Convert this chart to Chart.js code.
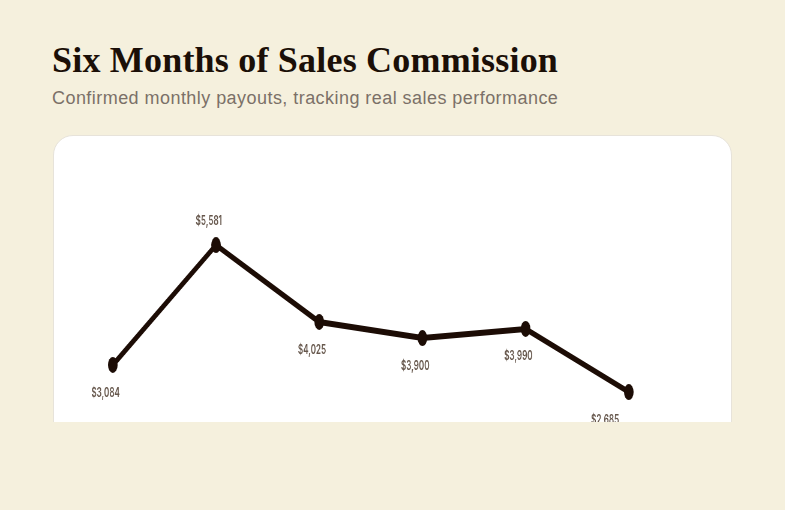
<!DOCTYPE html>
<html>
<head>
<meta charset="utf-8">
<title>Six Months of Sales Commission</title>
<script src="https://cdn.jsdelivr.net/npm/chart.js@4.4.1/dist/chart.umd.min.js"></script>
<style>
    html, body { margin: 0; padding: 0; background: #f5f0dd; }
    body { width: 785px; height: 510px; overflow: hidden; position: relative; }
    .page { position: absolute; left: 0; top: 0; width: 785px; height: 422px; overflow: hidden; }
    h1 {
        position: absolute; left: 52px; top: 40px; margin: 0;
        font: bold 36px "Liberation Serif", serif; line-height: 40px;
        letter-spacing: 0.2px; color: #1b0f07; white-space: nowrap;
    }
    .subtitle {
        position: absolute; left: 52px; top: 88px; margin: 0;
        font: 18px "Liberation Sans", Arial, sans-serif; line-height: 20px;
        letter-spacing: 0.45px; color: #7b7068; white-space: nowrap;
    }
    .card {
        position: absolute; left: 53px; top: 135px; width: 679px; height: 400px;
        box-sizing: border-box; background: #fff;
        border: 1px solid #e7e3da; border-radius: 20px; overflow: hidden;
    }
    /* the chart is drawn wide and squeezed horizontally, like the original */
    .chart-wrap {
        position: absolute; left: 0; top: 0; width: 1000px; height: 320px;
        transform: scaleX(0.6); transform-origin: 0 0;
    }
</style>
</head>
<body>
<div class="page">
    <h1>Six Months of Sales Commission</h1>
    <p class="subtitle">Confirmed monthly payouts, tracking real sales performance</p>
    <div class="card">
        <div class="chart-wrap"><canvas id="commissionChart"></canvas></div>
    </div>
</div>

<script>
// Data
const months = ['Jan', 'Feb', 'Mar', 'Apr', 'May', 'Jun'];
const commission = [3084, 5581, 3980, 3645, 3835, 2520];
const payoutLabels = ['$3,084', '$5,581', '$4,025', '$3,900', '$3,990', '$2,685'];

const lineColor = '#1c0c05';

// value labels under each point (above for the peak)
const valueLabels = {
    id: 'valueLabels',
    afterDatasetsDraw(chart) {
        const ctx = chart.ctx;
        const points = chart.getDatasetMeta(0).data;
        const peak = commission.indexOf(Math.max(...commission));
        ctx.save();
        ctx.font = '600 13.5px Inter, "Liberation Sans", sans-serif';
        ctx.fillStyle = '#65564b';
        ctx.textBaseline = 'middle';
        points.forEach(function(pt, i) {
            const y = i === peak ? pt.y - 24 : pt.y + 27.5;
            if (i === points.length - 1) {
                ctx.textAlign = 'right';
                ctx.fillText(payoutLabels[i], pt.x - 16, y);
            } else {
                ctx.textAlign = 'center';
                ctx.fillText(payoutLabels[i], pt.x - 12, y);
            }
        });
        ctx.restore();
    }
};

document.addEventListener('DOMContentLoaded', function() {
    const ctx = document.getElementById('commissionChart').getContext('2d');
    new Chart(ctx, {
        type: 'line',
        data: {
            labels: months,
            datasets: [{
                label: 'Commission',
                data: commission,
                borderColor: lineColor,
                backgroundColor: lineColor,
                borderWidth: 6,
                pointRadius: 8,
                pointHoverRadius: 8,
                pointBackgroundColor: lineColor,
                pointBorderWidth: 0,
                tension: 0,
                clip: false
            }]
        },
        options: {
            responsive: true,
            maintainAspectRatio: false,
            animation: false,
            layout: {
                padding: { left: 98, right: 42, top: 89, bottom: 39 }
            },
            scales: {
                x: { display: false },
                y: { display: false, min: 2000, max: 6000 }
            },
            plugins: {
                legend: { display: false },
                tooltip: { enabled: false }
            }
        },
        plugins: [valueLabels]
    });
});
</script>
</body>
</html>
